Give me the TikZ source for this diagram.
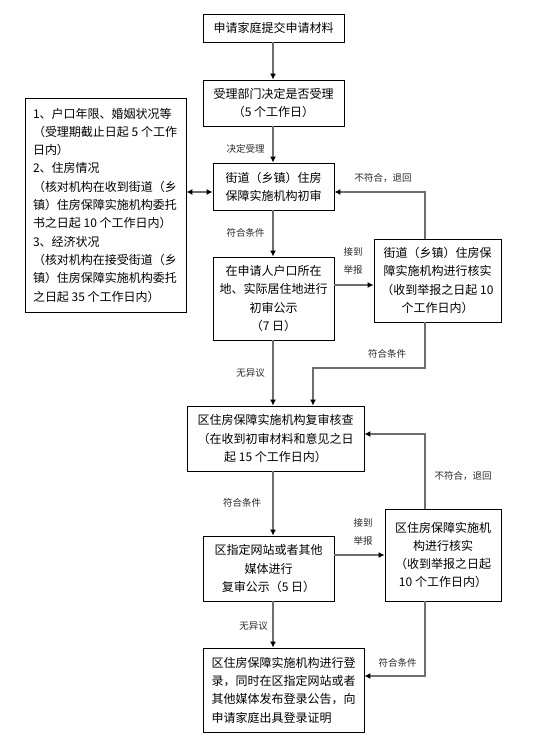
\documentclass[tikz,border=0pt]{standalone}
\usepackage{fontspec}
\newfontfamily\cjk{Noto Sans CJK SC}
\usetikzlibrary{arrows.meta}
\tikzset{
  box/.style={draw=black, line width=0.9pt, rectangle, inner sep=0pt, align=center,
    font=\cjk\fontsize{12}{18.3}\selectfont},
  conn/.style={draw={rgb,255:red,110;green,110;blue,110}, line width=1.1pt,
    -{Latex[length=6pt,width=6pt,color=black]}},
  biconn/.style={draw={rgb,255:red,110;green,110;blue,110}, line width=1.1pt,
    {Latex[length=6pt,width=6pt,color=black]}-{Latex[length=6pt,width=6pt,color=black]}},
  lbl/.style={inner sep=0pt, align=center, text={rgb,255:red,40;green,40;blue,40},
    font=\cjk\fontsize{9.5}{18}\selectfont}
}
\begin{document}
\begin{tikzpicture}[x=1pt,y=-1pt]
\useasboundingbox (0,0) rectangle (556,740);
\coordinate (cx) at (273,0);
\node[box, minimum width=141pt, minimum height=28pt] (b1) at (273.5,28) {申请家庭提交申请材料};
\node[box, minimum width=141pt, minimum height=46pt] (b2) at (273.5,103) {受理部门决定是否受理\\（5 个工作日）};
\node[box, minimum width=161pt, minimum height=214pt, align=left] (bl) at (105.5,205)
  {\parbox{145pt}{\raggedright
  1、户口年限、婚姻状况等\\
  （受理期截止日起 5 个工作\\
  日内）\\
  2、住房情况\\
  （核对机构在收到街道（乡\\
  镇）住房保障实施机构委托\\
  书之日起 10 个工作日内）\\
  3、经济状况\\
  （核对机构在接受街道（乡\\
  镇）住房保障实施机构委托\\
  之日起 35 个工作日内）}};
\node[box, minimum width=121pt, minimum height=47pt] (b3) at (273.5,186.5) {街道（乡镇）住房\\保障实施机构初审};
\node[box, minimum width=121pt, minimum height=83pt] (b4) at (273.5,298.5) {在申请人户口所在\\地、实际居住地进行\\初审公示\\（7 日）};
\node[box, minimum width=127pt, minimum height=83pt] (b5) at (437.5,280.5) {街道（乡镇）住房保\\障实施机构进行核实\\（收到举报之日起 10\\个工作日内）};
\node[box, minimum width=177pt, minimum height=65pt] (b6) at (275.5,438.5) {区住房保障实施机构复审核查\\（在收到初审材料和意见之日\\起 15 个工作日内）};
\node[box, minimum width=116pt, minimum height=92pt] (b7) at (443,555) {区住房保障实施机\\构进行核实\\（收到举报之日起\\10 个工作日内）};
\node[box, minimum width=131pt, minimum height=65pt] (b8) at (268.5,568.5) {区指定网站或者其他\\媒体进行\\复审公示（5 日）};
\node[box, minimum width=161pt, minimum height=84pt] (b9) at (283.5,690)
  {\parbox{144pt}{
  区住房保障实施机构进行登\\
  录，同时在区指定网站或者\\
  其他媒体发布登录公告，向\\
  申请家庭出具登录证明}};

% connectors
\draw[conn] (b1.south -| cx) -- (b2.north -| cx);
\draw[conn] (b2.south -| cx) -- (b3.north -| cx);
\draw[biconn] (bl.east |- 0,192) -- (b3.west |- 0,192);
\draw[conn] (b3.south -| cx) -- (b4.north -| cx);
\draw[conn] (b4.east |- 0,285) -- (b5.west |- 0,285);
\draw[conn] (b5.north -| 425,0) -- (425,192) -- (b3.east |- 0,192);
\draw[conn] (b4.south -| cx) -- (b6.north -| cx);
\draw[conn] (b5.south -| 425,0) -- (425,368) -- (313,368) -- (b6.north -| 313,0);
\draw[conn] (b6.south -| cx) -- (b8.north -| cx);
\draw[conn] (b8.east |- 0,555) -- (b7.west |- 0,555);
\draw[conn] (b7.north -| 425,0) -- (425,434) -- (b6.east |- 0,434);
\draw[conn] (b8.south -| cx) -- (b9.north -| cx);
\draw[conn] (b7.south -| 425,0) -- (425,676) -- (b9.east |- 0,676);

% labels
\node[lbl] (l1) at (245.5,149) {决定受理};
\node[lbl] (l2) at (245.5,233) {符合条件};
\node[lbl] (l3) at (383,178) {不符合，退回};
\node[lbl] (l4) at (353,261) {接到\\举报};
\node[lbl] (l5) at (250.5,373) {无异议};
\node[lbl] (l6) at (387,354) {符合条件};
\node[lbl] (l7) at (242,503) {符合条件};
\node[lbl] (l8) at (463,476) {不符合，退回};
\node[lbl] (l9) at (363,532) {接到\\举报};
\node[lbl] (l10) at (253.5,626) {无异议};
\node[lbl] (l11) at (397.5,663) {符合条件};
\end{tikzpicture}
\end{document}
